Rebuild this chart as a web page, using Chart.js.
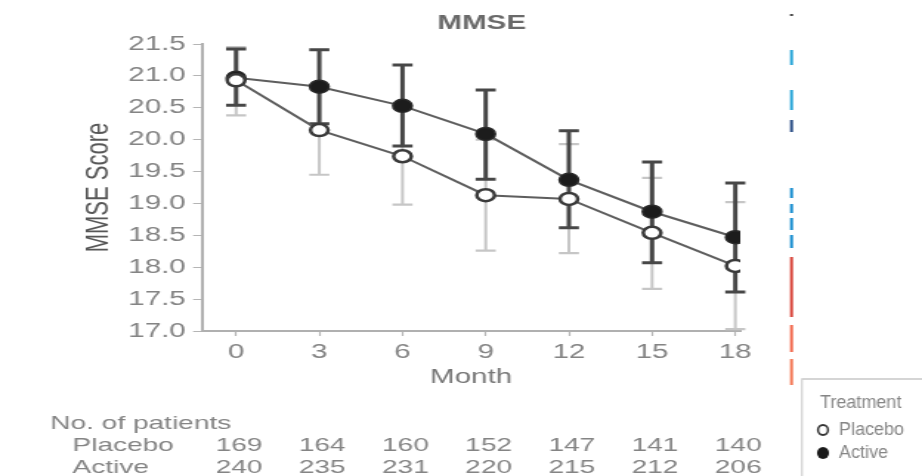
<!DOCTYPE html>
<html>
<head>
<meta charset="utf-8">
<script src="https://cdn.jsdelivr.net/npm/chart.js@4/dist/chart.umd.min.js"></script>
<style>
  html, body { margin: 0; padding: 0; background: #fff; }
</style>
</head>
<body>
<canvas id="mmse" width="624" height="476" style="display:block;width:922px;height:476px"></canvas>
<script>
// data
var months = [0, 3, 6, 9, 12, 15, 18];
var yTicks = [17.0, 17.5, 18.0, 18.5, 19.0, 19.5, 20.0, 20.5, 21.0, 21.5];

var placebo     = [20.93, 20.15, 19.74, 19.13, 19.07, 18.54, 18.02];
var placeboLow  = [20.38, 19.45, 18.98, 18.26, 18.22, 17.66, 17.03];
var placeboHigh = [21.45, 20.85, 20.50, 20.00, 19.93, 19.40, 19.02];

var active      = [20.97, 20.83, 20.53, 20.09, 19.37, 18.87, 18.47];
var activeLow   = [20.54, 20.25, 19.90, 19.38, 18.62, 18.07, 17.61];
var activeHigh  = [21.42, 21.41, 21.17, 20.78, 20.14, 19.65, 19.32];

var patientsPlacebo = [169, 164, 160, 152, 147, 141, 140];
var patientsActive  = [240, 235, 231, 220, 215, 212, 206];

// the source picture is stretched sideways, so the canvas is drawn narrow and widened by css
var stretch = 922 / 624;
var font = "'Liberation Sans', Arial, Helvetica, sans-serif";

function toPoints(values)
{
  return months.map(function(m, i){ return {x: m, y: values[i]}; });
}

function drawErrorBars(chart, lows, highs, color, width, capHalf, capWidth)
{
  var ctx = chart.ctx;
  var xs = chart.scales.x, ys = chart.scales.y;
  ctx.save();
  ctx.strokeStyle = color;
  for (var i = 0; i < months.length; i++) {
    var px = xs.getPixelForValue(months[i]);
    var lo = ys.getPixelForValue(lows[i]);
    var hi = ys.getPixelForValue(highs[i]);
    ctx.lineWidth = width;
    ctx.beginPath();
    ctx.moveTo(px, lo);
    ctx.lineTo(px, hi);
    ctx.stroke();
    ctx.lineWidth = capWidth;
    ctx.beginPath();
    ctx.moveTo(px - capHalf, lo); ctx.lineTo(px + capHalf, lo);
    ctx.moveTo(px - capHalf, hi); ctx.lineTo(px + capHalf, hi);
    ctx.stroke();
  }
  ctx.restore();
}

var errorBars = {
  id: 'errorBars',
  beforeDatasetsDraw: function(chart){
    drawErrorBars(chart, placeboLow, placeboHigh, '#c6c6c6', 2, 6.8, 2.2);
    drawErrorBars(chart, activeLow, activeHigh, '#474747', 3, 6.8, 3);
  }
};

// side strokes in the source image (leftovers of a neighbouring figure)
var sideMarks = [
  {y0: 14, y1: 16, color: '#444444'},
  {y0: 50, y1: 65, color: '#2aa6d8'},
  {y0: 90, y1: 110, color: '#2aa6d8'},
  {y0: 120, y1: 132, color: '#2f5288'},
  {y0: 188, y1: 198, color: '#1b8fd0'},
  {y0: 204, y1: 213, color: '#1b8fd0'},
  {y0: 218, y1: 230, color: '#1b8fd0'},
  {y0: 235, y1: 248, color: '#1b8fd0'},
  {y0: 257, y1: 317, color: '#d9473d'},
  {y0: 325, y1: 352, color: '#f26b50'},
  {y0: 359, y1: 385, color: '#f47a58'}
];

var extras = {
  id: 'extras',
  afterDraw: function(chart){
    var ctx = chart.ctx;
    var xs = chart.scales.x;

    // title
    ctx.save();
    ctx.fillStyle = '#6a6a6a';
    ctx.font = 'bold 20px ' + font;
    ctx.textAlign = 'center';
    ctx.textBaseline = 'middle';
    ctx.fillText('MMSE', 326, 23);

    // patients table
    ctx.fillStyle = '#848484';
    ctx.font = '19px ' + font;
    ctx.textAlign = 'left';
    ctx.fillText('No. of patients', 34, 424);
    ctx.fillText('Placebo', 49, 446);
    ctx.fillText('Active', 49, 468);
    ctx.textAlign = 'center';
    for (var i = 0; i < months.length; i++) {
      var px = xs.getPixelForValue(months[i]) + 2;
      ctx.fillText(String(patientsPlacebo[i]), px, 446);
      ctx.fillText(String(patientsActive[i]), px, 468);
    }
    ctx.restore();

    // legend and side strokes are not stretched in the source, undo the widening
    ctx.save();
    ctx.setTransform(1 / stretch, 0, 0, 1, 0, 0);
    sideMarks.forEach(function(m){
      ctx.fillStyle = m.color;
      ctx.fillRect(790, m.y0, 3, m.y1 - m.y0);
    });

    ctx.fillStyle = '#ffffff';
    ctx.fillRect(802, 379, 130, 110);
    ctx.strokeStyle = '#c8c8c8';
    ctx.lineWidth = 1.5;
    ctx.strokeRect(802, 379, 130, 110);

    ctx.fillStyle = '#858585';
    ctx.font = '18px ' + font;
    ctx.textAlign = 'left';
    ctx.textBaseline = 'middle';
    ctx.fillText('Treatment', 820, 403);
    ctx.fillText('Placebo', 839, 430);
    ctx.fillText('Active', 839, 453);

    ctx.beginPath();
    ctx.arc(823, 430, 5, 0, Math.PI * 2);
    ctx.fillStyle = '#ffffff';
    ctx.fill();
    ctx.lineWidth = 2.2;
    ctx.strokeStyle = '#333333';
    ctx.stroke();
    ctx.beginPath();
    ctx.arc(823, 453, 6, 0, Math.PI * 2);
    ctx.fillStyle = '#1a1a1a';
    ctx.fill();
    ctx.restore();
  }
};

function createChartMMSE()
{
  var canvas = document.getElementById('mmse');
  var ctx = canvas.getContext('2d');

  var data = {
    datasets: [
      {
        label: 'Placebo',
        data: toPoints(placebo),
        borderColor: '#5e5e5e',
        borderWidth: 2,
        pointRadius: 6,
        pointBorderWidth: 2.5,
        pointBackgroundColor: '#ffffff',
        pointBorderColor: '#3a3a3a',
        order: 1
      },
      {
        label: 'Active',
        data: toPoints(active),
        borderColor: '#5e5e5e',
        borderWidth: 2,
        pointRadius: 6.5,
        pointBorderWidth: 1.5,
        pointBackgroundColor: '#1c1c1c',
        pointBorderColor: '#2a2a2a',
        order: 2
      }
    ]
  };

  var options = {
    responsive: false,
    devicePixelRatio: 1,
    animation: false,
    layout: { padding: { left: 0, right: 123, top: 44, bottom: 0 } },
    plugins: {
      legend: { display: false },
      title: { display: false },
      tooltip: { enabled: false }
    },
    scales: {
      x: {
        type: 'linear',
        min: -1.23,
        max: 18.18,
        afterBuildTicks: function(scale){
          scale.ticks = months.map(function(m){ return {value: m}; });
        },
        afterFit: function(scale){ scale.height = 145; },
        grid: { drawOnChartArea: false, tickLength: 5, color: '#b5b5b5', tickWidth: 1.2 },
        border: { color: '#b0b0b0', width: 2 },
        ticks: { color: '#848484', font: { family: font, size: 20 }, padding: 4, autoSkip: false, maxRotation: 0 },
        title: { display: true, text: 'Month', color: '#767676', font: { family: font, size: 20 }, padding: { top: 0, bottom: 87 } }
      },
      y: {
        min: 17,
        max: 21.5,
        afterBuildTicks: function(scale){
          scale.ticks = yTicks.map(function(v){ return {value: v}; });
        },
        afterFit: function(scale){ scale.width = 136.7; },
        grid: { drawOnChartArea: false, tickLength: 6, color: '#b5b5b5', tickWidth: 1 },
        border: { color: '#b0b0b0', width: 2 },
        ticks: {
          color: '#848484',
          font: { family: font, size: 20 },
          padding: 5,
          callback: function(v){ return Number(v).toFixed(1); }
        },
        title: { display: true, text: 'MMSE Score', color: '#575757', font: { family: font, size: 22 }, padding: { top: 54, bottom: 0 } }
      }
    }
  };

  new Chart(ctx, {
    type: 'line',
    data: data,
    options: options,
    plugins: [errorBars, extras]
  });
}

createChartMMSE();
</script>
</body>
</html>
